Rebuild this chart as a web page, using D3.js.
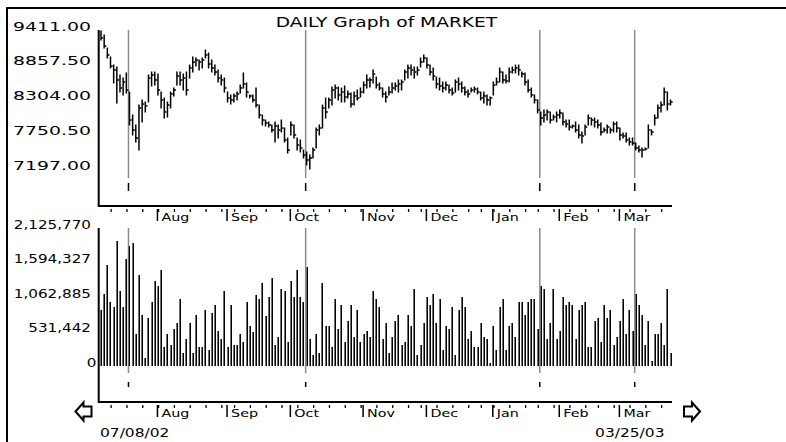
<!DOCTYPE html>
<html>
<head>
<meta charset="utf-8">
<script src="https://cdn.jsdelivr.net/npm/d3@7"></script>
<style>
body { margin: 0; background: #fff; }
svg { display: block; }
text { font-family: "DejaVu Sans", Verdana, sans-serif; fill: #000; }
</style>
</head>
<body>
<div id="chart"></div>
<script>
const title = "DAILY Graph of MARKET"
const startDate = "07/08/02"
const endDate = "03/25/03"

// trading-day index of the first session of each month
const months = ["Aug", "Sep", "Oct", "Nov", "Dec", "Jan", "Feb", "Mar"]
const monthStart = [18, 40, 60, 83, 103, 124, 145, 164]
// last session of each week
const weekEnds = [4, 9, 14, 19, 24, 29, 34, 39, 43, 48, 53, 58, 63, 68, 73, 78, 83, 88, 93, 98, 102,
    107, 112, 117, 121, 125, 130, 135, 139, 144, 149, 154, 158, 163, 168, 173, 178]
// cycle marker lines
const markers = [9, 65, 139, 169]

const priceTicks = [7197, 7750.5, 8304, 8857.5, 9411]
const priceTickLabels = ["7197.00", "7750.50", "8304.00", "8857.50", "9411.00"]
const volTicks = [0, 531442, 1062885, 1594327, 2125770]
const volTickLabels = ["0", "531,442", "1,062,885", "1,594,327", "2,125,770"]

const high = [
    9395, 9331, 9124, 8981, 8853, 8821, 8694, 8646, 8726, 8423,
    8057, 7898, 8216, 8296, 8264, 8694, 8742, 8742, 8710, 8423,
    8328, 8264, 8423, 8487, 8742, 8742, 8710, 8742, 8853, 8981,
    8965, 8933, 8965, 9092, 9044, 8933, 8853, 8774, 8694, 8646,
    8423, 8376, 8392, 8423, 8535, 8726, 8567, 8376, 8376, 8487,
    8216, 8057, 7977, 7946, 7898, 7946, 7898, 7977, 7850, 7691,
    7946, 7898, 7691, 7659, 7500, 7468, 7420, 7532, 7850, 7898,
    8216, 8328, 8328, 8503, 8535, 8503, 8487, 8519, 8439, 8408,
    8423, 8455, 8487, 8583, 8694, 8646, 8774, 8662, 8567, 8487,
    8423, 8503, 8567, 8567, 8615, 8615, 8774, 8853, 8853, 8821,
    8821, 8965, 9013, 8965, 8853, 8806, 8662, 8646, 8583, 8583,
    8535, 8487, 8615, 8646, 8583, 8503, 8455, 8487, 8503, 8487,
    8423, 8423, 8376, 8344, 8583, 8646, 8806, 8742, 8694, 8806,
    8821, 8853, 8853, 8742, 8726, 8615, 8487, 8376, 8296, 8105,
    8137, 8137, 8105, 8057, 8105, 8137, 8089, 7977, 7977, 7898,
    7946, 7898, 7786, 7898, 8057, 8009, 8009, 7977, 7930, 7850,
    7898, 7850, 7946, 7946, 7850, 7770, 7770, 7691, 7691, 7611,
    7563, 7532, 7532, 7898, 7818, 8057, 8216, 8264, 8487, 8423,
    8296
]
const low = [
    9252, 9124, 8965, 8806, 8567, 8248, 8423, 8376, 8408, 7898,
    7739, 7627, 7500, 7946, 8105, 8264, 8519, 8535, 8376, 8169,
    8009, 8025, 8169, 8360, 8535, 8535, 8455, 8376, 8646, 8742,
    8837, 8774, 8806, 8965, 8806, 8742, 8694, 8583, 8535, 8423,
    8264, 8232, 8264, 8296, 8408, 8487, 8344, 8328, 8264, 8185,
    8009, 7898, 7882, 7866, 7786, 7627, 7691, 7786, 7627, 7452,
    7739, 7691, 7500, 7468, 7372, 7261, 7197, 7372, 7532, 7739,
    7850, 8009, 8169, 8216, 8328, 8296, 8264, 8264, 8328, 8185,
    8216, 8296, 8344, 8408, 8487, 8503, 8567, 8487, 8455, 8344,
    8264, 8376, 8408, 8455, 8423, 8455, 8615, 8646, 8694, 8646,
    8694, 8821, 8901, 8806, 8694, 8615, 8487, 8455, 8423, 8455,
    8408, 8376, 8423, 8455, 8423, 8376, 8344, 8423, 8423, 8392,
    8296, 8248, 8216, 8216, 8376, 8535, 8583, 8567, 8567, 8583,
    8726, 8726, 8694, 8662, 8535, 8423, 8344, 8248, 8089, 7898,
    7946, 7977, 7930, 7977, 7946, 8009, 7898, 7866, 7818, 7850,
    7786, 7691, 7611, 7739, 7898, 7898, 7866, 7850, 7739, 7786,
    7770, 7770, 7786, 7786, 7659, 7691, 7627, 7579, 7579, 7500,
    7468, 7388, 7500, 7532, 7739, 7898, 8009, 8105, 8216, 8137,
    8216
]
const close = [
    9283, 9156, 9013, 8837, 8774, 8615, 8487, 8583, 8455, 7977,
    7818, 7691, 8169, 8232, 8201, 8646, 8694, 8615, 8455, 8296,
    8105, 8216, 8392, 8455, 8678, 8615, 8646, 8455, 8806, 8901,
    8933, 8901, 8933, 9013, 8869, 8806, 8742, 8646, 8615, 8487,
    8328, 8296, 8360, 8392, 8487, 8551, 8423, 8360, 8296, 8216,
    8057, 7977, 7930, 7898, 7818, 7882, 7818, 7850, 7659, 7500,
    7898, 7739, 7579, 7532, 7420, 7341, 7372, 7500, 7818, 7850,
    8169, 8105, 8296, 8455, 8487, 8376, 8423, 8344, 8392, 8232,
    8360, 8328, 8423, 8535, 8615, 8615, 8710, 8535, 8487, 8392,
    8344, 8423, 8487, 8519, 8551, 8583, 8742, 8806, 8774, 8742,
    8774, 8901, 8965, 8853, 8742, 8678, 8551, 8519, 8487, 8535,
    8455, 8408, 8583, 8551, 8487, 8423, 8392, 8455, 8471, 8423,
    8328, 8360, 8296, 8328, 8535, 8583, 8742, 8615, 8599, 8742,
    8774, 8806, 8774, 8710, 8583, 8455, 8376, 8296, 8137, 8009,
    8057, 8105, 7977, 8025, 8057, 8089, 7946, 7914, 7866, 7882,
    7818, 7739, 7723, 7866, 8009, 7977, 7946, 7898, 7786, 7818,
    7866, 7818, 7914, 7850, 7739, 7723, 7659, 7627, 7611, 7532,
    7500, 7500, 7516, 7818, 7786, 8009, 8169, 8216, 8423, 8232,
    8264
]
const volume = [
    863000, 1109000, 1560000, 986000, 904000, 1930000, 1150000, 904000, 1643000, 1848000,
    1890000, 493000, 1397000, 781000, 123000, 739000, 986000, 1314000, 1232000, 1479000,
    288000, 493000, 328000, 575000, 657000, 1027000, 205000, 411000, 657000, 205000,
    781000, 288000, 288000, 862000, 246000, 821000, 944000, 534000, 411000, 1150000,
    288000, 944000, 328000, 328000, 493000, 370000, 981000, 611000, 528000, 1100000,
    1027000, 1273000, 775000, 1068000, 1356000, 323000, 452000, 1191000, 1150000, 370000,
    1314000, 1068000, 1479000, 1068000, 986000, 1520000, 411000, 164000, 493000, 205000,
    1273000, 616000, 616000, 288000, 1027000, 575000, 945000, 370000, 698000, 945000,
    452000, 863000, 370000, 493000, 534000, 452000, 1150000, 1027000, 904000, 411000,
    657000, 205000, 452000, 698000, 781000, 329000, 370000, 781000, 616000, 1191000,
    164000, 329000, 657000, 1068000, 945000, 1109000, 657000, 1027000, 246000, 616000,
    575000, 904000, 164000, 863000, 1068000, 904000, 411000, 534000, 288000, 288000,
    657000, 452000, 411000, 41000, 616000, 246000, 904000, 1027000, 246000, 616000,
    657000, 452000, 986000, 986000, 781000, 986000, 1027000, 1027000, 575000, 1232000,
    1191000, 411000, 657000, 1191000, 411000, 534000, 1068000, 945000, 986000, 945000,
    411000, 863000, 945000, 986000, 288000, 288000, 698000, 739000, 370000, 945000,
    739000, 863000, 329000, 452000, 698000, 1027000, 493000, 863000, 534000, 1109000,
    945000, 781000, 329000, 698000, 82000, 493000, 493000, 657000, 329000, 1191000,
    205000
]

const W = 786, H = 442
const svg = d3.select('#chart').append('svg')
    .attr('width', W)
    .attr('height', H)

const x = d3.scaleLinear().domain([0, close.length - 1]).range([101, 670.5])
const yP = d3.scaleLinear().domain([7197, 9411]).range([169, 30])
const yV = d3.scaleLinear().domain([0, 2125770]).range([366, 228])

const axisX0 = 98.7, axisX1 = 672
const priceAxisY = 206, volAxisY = 402

// stretched text, the original fonts are wide
function label(g, tx, ty, txt, size, anchor, sx) {
    return g.append('text')
        .attr('transform', 'translate(' + tx + ',' + ty + ') scale(' + sx + ',1)')
        .attr('text-anchor', anchor)
        .style('font-size', size + 'px')
        .text(txt)
}

// outer frame
svg.append('path')
    .attr('d', 'M7,442V8H786')
    .attr('fill', 'none')
    .attr('stroke', '#000')
    .attr('stroke-width', 2)

label(svg, 386.5, 27, title, 14, 'middle', 1.33)

// price y labels
const gP = svg.append('g')
priceTicks.forEach((d, i) => label(gP, 91, yP(d) + 0.5, priceTickLabels[i], 13, 'end', 1.45))

// volume y labels
const gV = svg.append('g')
volTicks.forEach((d, i) => label(gV, d === 0 ? 96.5 : 91, yV(d) + 0.5, volTickLabels[i], 11.5, 'end', 1.32))

// marker lines
function drawMarkers(top, bottom, tickTop, tickBottom) {
    const g = svg.append('g')
    g.selectAll('line.m').data(markers).join('line')
        .attr('class', 'm')
        .attr('x1', d => x(d) - 1).attr('x2', d => x(d) - 1)
        .attr('y1', top).attr('y2', bottom)
        .attr('stroke', '#8c8c8c')
        .attr('stroke-width', 1.5)
    g.selectAll('line.t').data(markers).join('line')
        .attr('class', 't')
        .attr('x1', d => x(d) - 1).attr('x2', d => x(d) - 1)
        .attr('y1', tickTop).attr('y2', tickBottom)
        .attr('stroke', '#000')
        .attr('stroke-width', 1.5)
}
drawMarkers(30, 178, 183, 191)
drawMarkers(228, 373, 382, 387)

// price bars
const bars = svg.append('g')
    .attr('stroke', '#000')
    .attr('stroke-width', 1.5)
bars.selectAll('line.hl').data(close).join('line')
    .attr('class', 'hl')
    .attr('x1', (d, i) => x(i)).attr('x2', (d, i) => x(i))
    .attr('y1', (d, i) => yP(high[i]) - 0.5)
    .attr('y2', (d, i) => yP(low[i]) + 0.5)
bars.selectAll('line.c').data(close).join('line')
    .attr('class', 'c')
    .attr('x1', (d, i) => x(i)).attr('x2', (d, i) => x(i) + 2.2)
    .attr('y1', d => yP(d)).attr('y2', d => yP(d))

// volume bars
const vb = svg.append('g').attr('shape-rendering', 'crispEdges')
vb.selectAll('rect.g').data(volume).join('rect')
    .attr('class', 'g')
    .attr('x', (d, i) => Math.round(x(i)) - 1)
    .attr('width', 1)
    .attr('y', d => yV(d))
    .attr('height', d => yV(0) - yV(d))
    .attr('fill', '#6e6e6e')
vb.selectAll('rect.b').data(volume).join('rect')
    .attr('class', 'b')
    .attr('x', (d, i) => Math.round(x(i)))
    .attr('width', 1)
    .attr('y', d => yV(d))
    .attr('height', d => yV(0) - yV(d))
    .attr('fill', '#000')

// panel axes
function panelAxes(top, axisY) {
    const g = svg.append('g')
    g.append('path')
        .attr('d', 'M' + axisX0 + ',' + top + 'V' + axisY + 'H' + axisX1)
        .attr('fill', 'none')
        .attr('stroke', '#000')
        .attr('stroke-width', 2)
    g.selectAll('line.w').data(weekEnds).join('line')
        .attr('class', 'w')
        .attr('x1', d => x(d) - 2.5).attr('x2', d => x(d) - 2.5)
        .attr('y1', axisY + 3).attr('y2', axisY + 6)
        .attr('stroke', '#000')
        .attr('stroke-width', 1.3)
    g.selectAll('line.mo').data(monthStart).join('line')
        .attr('class', 'mo')
        .attr('x1', d => x(d) - 0.5).attr('x2', d => x(d) - 0.5)
        .attr('y1', axisY + 3).attr('y2', axisY + 15)
        .attr('stroke', '#000')
        .attr('stroke-width', 1.5)
    monthStart.forEach((d, i) => label(g, x(d) + 3.5, axisY + 15, months[i], 11, 'start', 1.3))
}
panelAxes(30, priceAxisY)
panelAxes(228, volAxisY)

// scroll arrows
const arrowL = [[75.5, 411.5], [83.5, 402.5], [83.5, 406.5], [91.5, 406.5], [91.5, 416.5], [83.5, 416.5], [83.5, 420.5]]
svg.append('path')
    .attr('d', d3.line()(arrowL) + 'Z')
    .attr('fill', '#fff').attr('stroke', '#000').attr('stroke-width', 2)
svg.append('path')
    .attr('d', d3.line()(arrowL.map(p => [775.5 - p[0], p[1]])) + 'Z')
    .attr('fill', '#fff').attr('stroke', '#000').attr('stroke-width', 2)

label(svg, 100, 436.5, startDate, 12, 'start', 1.29)
label(svg, 664.5, 436.5, endDate, 12, 'end', 1.29)
</script>
</body>
</html>
